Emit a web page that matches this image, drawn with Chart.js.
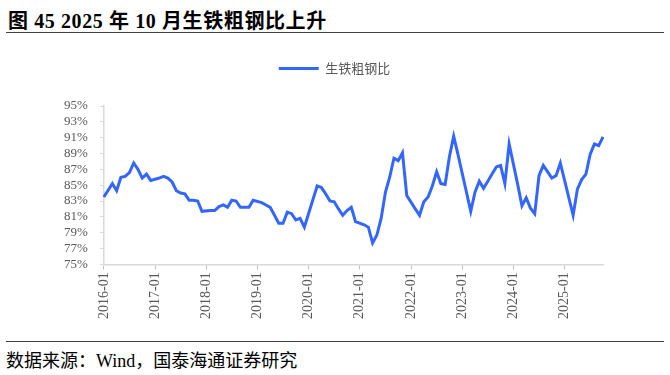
<!DOCTYPE html>
<html>
<head>
<meta charset="utf-8">
<script src="https://cdn.jsdelivr.net/npm/chart.js@4.4.0/dist/chart.umd.min.js"></script>
<style>
  body { margin: 0; width: 670px; height: 375px; background: #fff; position: relative; overflow: hidden; }
  #title { position: absolute; left: 8px; top: 5px; font: bold 20px "Liberation Serif", "Noto Sans CJK SC", serif; letter-spacing: 0.6px; color: #000; white-space: nowrap; }
  #titleLine { position: absolute; left: 6px; right: 6px; top: 32px; border-top: 1.5px solid #404040; }
  #footLine { position: absolute; left: 6px; right: 6px; top: 341px; border-top: 1.5px solid #404040; }
  #foot { position: absolute; left: 6px; top: 346px; font: 18px "Liberation Serif", "Noto Sans CJK SC", serif; color: #000; white-space: nowrap; }
  #wrap { position: absolute; left: 0; top: 0; width: 670px; height: 340px; }
</style>
</head>
<body>
<div id="title">图 45 2025 年 10 月生铁粗钢比上升</div>
<div id="titleLine"></div>
<div id="wrap"><canvas id="chart"></canvas></div>
<div id="footLine"></div>
<div id="foot">数据来源：Wind，国泰海通证券研究</div>
<script>
// 生铁粗钢比, %, monthly (null = no point that month)
const v2016 = [83.5, null, 85.2, 84.3, 86.0, 86.1, 86.6, 87.8, 87.0, 85.9, 86.4, 85.6];
const v2017 = [null, 85.9, 86.1, 85.9, 85.4, 84.3, 84.0, 83.9, 83.1, 83.1, 83.0, 81.7];
const v2018 = [null, 81.8, 81.8, 82.3, 82.5, 82.2, 83.1, 83.0, 82.2, 82.2, 82.2, 83.1];
const v2019 = [null, 82.8, 82.5, 82.2, 81.2, 80.2, 80.2, 81.6, 81.4, 80.6, 80.8, 79.7];
const v2020 = [null, null, 84.9, 84.7, 83.9, 83.0, 82.9, 82.0, 81.2, 81.8, 82.2, 80.4];
const v2021 = [null, 80.0, 79.7, 77.7, 78.7, 80.8, 84.1, 86.0, 88.4, 88.1, 89.1, 83.7];
const v2022 = [null, 82.0, 81.2, 82.9, 83.5, 84.9, 86.7, 85.2, 85.1, 88.6, 91.2, 88.9];
const v2023 = [null, 84.1, 81.7, 84.1, 85.5, 84.6, 85.5, 86.4, 87.3, 87.5, 85.2, 90.2];
const v2024 = [null, 85.1, 82.4, 83.4, 82.1, 81.4, 86.2, 87.5, 86.7, 85.9, 86.2, 87.8];
const v2025 = [null, 83.4, 81.2, 84.5, 85.7, 86.4, 88.9, 90.2, 90.0, 91.1];

const years = [2016, 2017, 2018, 2019, 2020, 2021, 2022, 2023, 2024, 2025];
const values = [].concat(v2016, v2017, v2018, v2019, v2020, v2021, v2022, v2023, v2024, v2025);
const labels = [];
years.forEach(y => {
  for (let m = 1; m <= 12; m++) labels.push(y + '-' + String(m).padStart(2, '0'));
});
labels.length = values.length;

const serif = '"Liberation Serif", "Times New Roman", serif';

// extra space under the legend, and nudge it a bit to the right
const legendTweak = {
  id: 'legendTweak',
  beforeInit(chart) {
    const fit = chart.legend.fit;
    chart.legend.fit = function () {
      fit.call(this);
      this.height += 21;
    };
  },
  afterLayout(chart) {
    chart.legend.left += 7;
    chart.legend.right += 7;
  }
};

new Chart(document.getElementById('chart'), {
  type: 'line',
  data: {
    labels: labels,
    datasets: [{
      label: '生铁粗钢比',
      data: values,
      borderColor: '#3366FF',
      backgroundColor: '#3366FF',
      borderWidth: 3,
      pointRadius: 0,
      tension: 0,
      spanGaps: true
    }]
  },
  options: {
    responsive: true,
    maintainAspectRatio: false,
    animation: false,
    layout: { padding: { top: 52, left: 52, right: 67, bottom: 18 } },
    plugins: {
      legend: {
        labels: {
          usePointStyle: true,
          pointStyle: 'line',
          pointStyleWidth: 40,
          color: '#595959',
          font: { family: '"Noto Sans CJK SC", sans-serif', size: 13 }
        }
      },
      tooltip: { enabled: false }
    },
    scales: {
      x: {
        offset: false,
        afterBuildTicks: axis => {
          axis.ticks = axis.ticks.filter(t => labels[t.value].endsWith('-01'));
        },
        ticks: {
          autoSkip: false,
          maxRotation: 90,
          minRotation: 90,
          padding: 3,
          color: '#595959',
          font: { family: serif, size: 14 }
        },
        grid: { drawOnChartArea: false, color: '#BFBFBF', tickLength: 5 },
        border: { color: '#D9D9D9', width: 1.5 }
      },
      y: {
        min: 75,
        max: 95,
        ticks: {
          stepSize: 2,
          autoSkip: false,
          padding: 12,
          color: '#595959',
          font: { family: serif, size: 13 },
          callback: v => v + '%'
        },
        grid: { drawOnChartArea: false, color: '#D9D9D9', tickLength: 4 },
        border: { color: '#D9D9D9', width: 1.5 }
      }
    }
  },
  plugins: [legendTweak]
});
</script>
</body>
</html>
